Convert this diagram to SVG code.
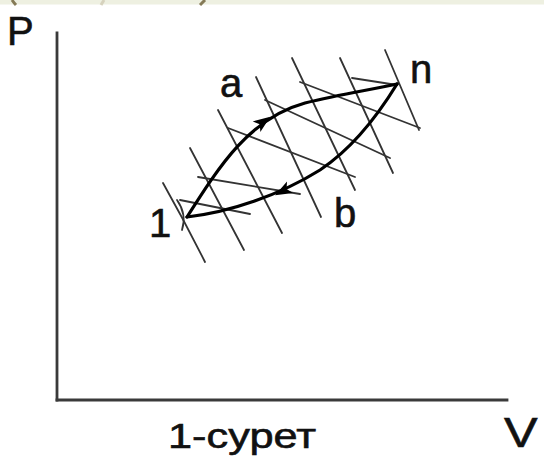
<svg xmlns="http://www.w3.org/2000/svg" width="544" height="465" viewBox="0 0 544 465">
  <style>
    .lbl { font-family: "Liberation Sans", Arial, sans-serif; fill: #111; stroke: #111; stroke-width: 0.6; }
    .axis { stroke: #3a3a3a; stroke-width: 2.8; fill: none; stroke-linecap: square; }
    .hatch { stroke: #333; stroke-width: 1.8; fill: none; stroke-linecap: round; }
    .curve { stroke: #000; stroke-width: 3.2; fill: none; stroke-linecap: round; }
    .arrowhead { fill: #000; }
  </style>
  <defs>
    <path id="ah" d="M9,0 L-8,-6.5 L-4,0 L-8,6.5 Z"/>
  </defs>
  <rect x="0" y="0" width="544" height="465" fill="#ffffff"/>
  <g id="top-band">
    <rect x="0" y="0" width="544" height="4.5" fill="#eef0e1"/>
    <path d="M12,0 Q14,3 16,5" stroke="#857a57" stroke-width="3" fill="none"/>
    <path d="M104,0 L101,5" stroke="#d6d2bd" stroke-width="3" fill="none"/>
    <path d="M205,0 L200,5" stroke="#857a57" stroke-width="3" fill="none"/>
  </g>
  <g id="axes">
    <line class="axis" x1="57" y1="33" x2="57" y2="400"/>
    <line class="axis" x1="57" y1="400" x2="507" y2="400"/>
    <text class="lbl" x="7" y="45" font-size="40">P</text>
    <text class="lbl" x="0" y="0" font-size="42" transform="translate(504,447) scale(1.2,1)">V</text>
  </g>
  <g id="hatching">
    <path class="hatch" d="M163,183 Q185,222 205,262"/>
    <path class="hatch" d="M177,200 Q187,214 182,230"/>
    <path class="hatch" d="M190,148 L244,250"/>
    <path class="hatch" d="M218,110 L282,233"/>
    <path class="hatch" d="M256,77 L321,217"/>
    <path class="hatch" d="M292,58 L355,190"/>
    <path class="hatch" d="M340,58 L393,173"/>
    <path class="hatch" d="M385,50 L419,130"/>
    <path class="hatch" d="M180,200 L250,214"/>
    <path class="hatch" d="M198,177 L300,194"/>
    <path class="hatch" d="M228,128 L355,177"/>
    <path class="hatch" d="M265,100 L390,158"/>
    <path class="hatch" d="M300,82 L420,128"/>
    <path class="hatch" d="M352,78 L397,85"/>
  </g>
  <g id="connectors">
    <path id="path-a" class="curve" d="M187,217 C220,165 250,118 305,103 C340,94 370,90 397,84"/>
    <path id="path-b" class="curve" d="M187,217 C230,212 280,195 320,170 C350,150 375,120 397,84"/>
    <use href="#ah" class="arrowhead" transform="translate(263,122) rotate(-36)"/>
    <use href="#ah" class="arrowhead" transform="translate(283,191) rotate(152)"/>
  </g>
  <g id="node-1"><text class="lbl" x="149" y="237" font-size="40">1</text></g>
  <g id="node-n"><text class="lbl" x="410" y="83" font-size="40">n</text></g>
  <g id="label-a"><text class="lbl" x="220" y="97" font-size="40">a</text></g>
  <g id="label-b"><text class="lbl" x="334" y="227" font-size="40">b</text></g>
  <g id="caption"><text class="lbl" x="168" y="448" font-size="35" textLength="148" lengthAdjust="spacingAndGlyphs">1-сурет</text></g>
</svg>
